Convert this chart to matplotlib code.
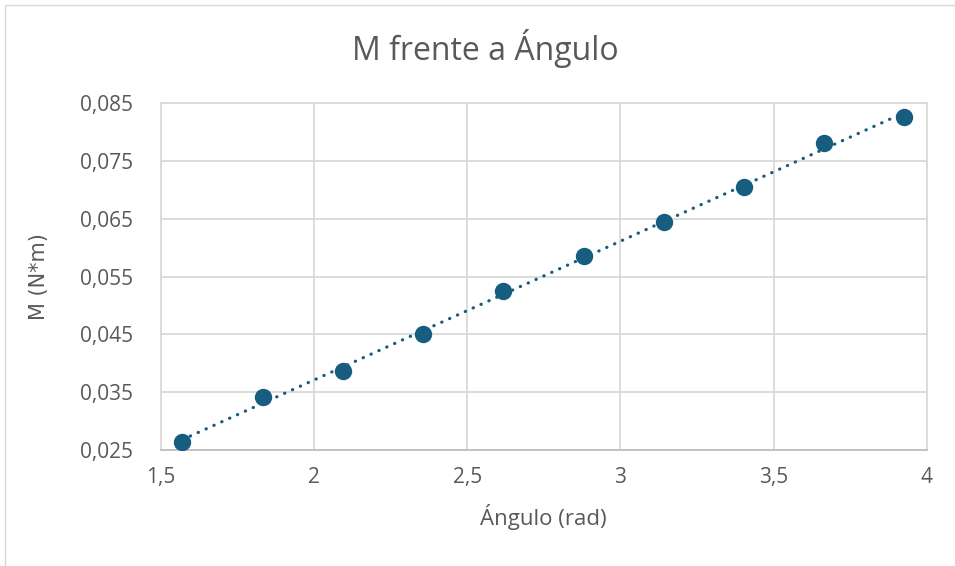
import numpy as np
import matplotlib.pyplot as plt
from matplotlib.ticker import FuncFormatter, MultipleLocator
from matplotlib.patches import Rectangle

# data
angulo = np.array([1.5708, 1.8326, 2.0944, 2.3562, 2.6180,
                   2.8798, 3.1416, 3.4034, 3.6652, 3.9270])
momento = np.array([0.02633, 0.03411, 0.03871, 0.04501, 0.05249,
                    0.05855, 0.06448, 0.07048, 0.07803, 0.08253])
yticks = [0.025, 0.035, 0.045, 0.055, 0.065, 0.075, 0.085]

col = "#175d7f"
txt = "#595959"
plt.rcParams['font.family'] = ['Open Sans', 'DejaVu Sans']

fig = plt.figure(figsize=(9.55, 5.66), dpi=100)
ax = fig.add_axes([0.1683, 0.2049, 0.8021, 0.6131])

# linear trendline
m, b = np.polyfit(angulo, momento, 1)
xt = np.array([angulo[0], angulo[-1]])
ax.plot(xt, m * xt + b, color=col, lw=2.3, linestyle=(0, (0.1, 2.6)),
        dash_capstyle='round', zorder=3)
ax.plot(angulo, momento, 'o', color=col, ms=11.5, zorder=4)

ax.set_xlim(1.5, 4)
ax.set_ylim(0.025, 0.085)
ax.xaxis.set_major_locator(MultipleLocator(0.5))
ax.set_yticks(yticks)
ax.xaxis.set_major_formatter(FuncFormatter(lambda v, p: ('%g' % v).replace('.', ',')))
ax.yaxis.set_major_formatter(FuncFormatter(lambda v, p: ('%.3f' % v).replace('.', ',')))

ax.grid(True, color="#d9d9d9", lw=1.3)
ax.set_axisbelow(True)
for s in ax.spines.values():
    s.set_color("#d9d9d9")
    s.set_linewidth(1.3)
ax.spines['bottom'].set_color("#bfbfbf")
ax.tick_params(axis='x', length=0, labelsize=15, colors=txt, pad=12)
ax.tick_params(axis='y', length=0, labelsize=15, colors=txt, pad=20)

fig.text(485 / 955, 1 - 48 / 566, "M frente a Ángulo", fontsize=23, color=txt,
         ha='center', va='center')
ax.set_xlabel("Ángulo (rad)", fontsize=16, color=txt, labelpad=12)
ax.set_ylabel("M (N*m)", fontsize=15, color=txt, labelpad=22,
              family=['DejaVu Sans'])

# chart outer border
fig.patches.append(Rectangle((5 / 955, -0.1), 1.1, 1 - 5 / 566 + 0.1,
                             transform=fig.transFigure, fill=False,
                             edgecolor="#d9d9d9", lw=1))

fig.savefig("out.png", dpi=100)
